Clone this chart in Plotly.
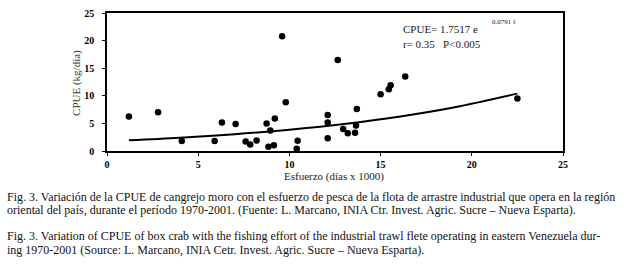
import plotly.graph_objects as go

# Scatter data: fishing effort (days x 1000) vs CPUE (kg/day)
effort = [1.2, 2.8, 4.1, 5.9, 6.3, 7.05, 7.6, 7.85, 8.2, 8.75, 8.95, 8.85, 9.2, 9.15,
          9.6, 9.8, 10.45, 10.4, 12.65, 12.1, 12.1, 12.1, 12.95, 13.2, 13.6, 13.65,
          13.7, 15.0, 15.45, 15.55, 16.35, 22.5]
cpue = [6.25, 7.0, 1.8, 1.8, 5.15, 4.9, 1.7, 1.2, 1.9, 5.0, 3.7, 0.75, 5.9, 1.05,
        20.8, 8.85, 1.85, 0.4, 16.5, 6.5, 5.15, 2.3, 4.0, 3.2, 3.3, 4.6,
        7.6, 10.3, 11.2, 11.9, 13.5, 9.5]

# Fitted exponential curve as drawn (CPUE = 1.7517 e^(0.0791 f))
fit_effort = [1.2, 4, 7, 10, 13, 16, 19, 22.5]
fit_cpue = [1.93, 2.40, 3.05, 3.86, 4.90, 6.21, 7.87, 10.39]

x_ticks = [0, 5, 10, 15, 20, 25]
y_ticks = [0, 5, 10, 15, 20, 25]

W, H = 633, 275
L, R, T, B = 107, 563, 7, 151


def px(x):
    return (x - L) / (R - L)


def py(y):
    return (B - y) / (B - T)


serif = "Liberation Serif"

fig = go.Figure()
fig.add_trace(go.Scatter(x=fit_effort, y=fit_cpue, mode="lines", line_shape="spline",
                         line=dict(color="black", width=2), showlegend=False,
                         hoverinfo="skip"))
fig.add_trace(go.Scatter(x=effort, y=cpue, mode="markers",
                         marker=dict(color="black", size=6.5), showlegend=False))

axis_common = dict(showgrid=False, zeroline=False, showline=True, linecolor="black",
                   linewidth=1.5, mirror=True, ticks="outside", ticklen=3,
                   tickcolor="black", tickwidth=1,
                   tickfont=dict(family=serif, size=10, color="black", weight="bold"))

fig.update_xaxes(range=[0, 25], tickvals=x_ticks, ticktext=[str(v) for v in x_ticks],
                 ticklabelstandoff=0, **axis_common)
fig.update_yaxes(range=[0, 25], tickvals=y_ticks, ticktext=[str(v) for v in y_ticks],
                 ticklabelstandoff=6, **axis_common)

ann = []


def add(text, x, y, size, color="#222", xanchor="center", angle=0):
    ann.append(dict(x=px(x), y=py(y), xref="paper", yref="paper", xanchor=xanchor,
                    yanchor="middle", text=text, showarrow=False, textangle=angle,
                    font=dict(family=serif, size=size, color=color)))


# axis titles
add("Esfuerzo (días x 1000)", 334, 178, 11)
add("CPUE (kg/día)", 77, 80, 11, color="#333", angle=-90)
# equation
add("CPUE= 1.7517 e", 401, 24, 11, xanchor="left")
add("0.0791 f", 490, 16, 7, xanchor="left")
add("r= 0.35&nbsp;&nbsp;&nbsp;P&lt;0.005", 401, 39, 11, xanchor="left")

captions = [
    ("Fig. 3. Variación de la CPUE de cangrejo moro con el esfuerzo de pesca de la flota de arrastre industrial que opera en la región", 199),
    ("oriental del país, durante el período 1970-2001. (Fuente: L. Marcano, INIA Ctr. Invest. Agric. Sucre – Nueva Esparta).", 213),
    ("Fig. 3. Variation of CPUE of box crab with the fishing effort of the industrial trawl flete operating in eastern Venezuela dur-", 240),
    ("ing 1970-2001 (Source: L. Marcano, INIA Cetr. Invest. Agric. Sucre – Nueva Esparta).", 254),
]
for text, yy in captions:
    add(text, 5, yy, 12, color="#111", xanchor="left")

fig.update_layout(width=W, height=H, margin=dict(l=L, r=W - R, t=T, b=H - B),
                  paper_bgcolor="white", plot_bgcolor="white", annotations=ann)

fig.write_html("out.html", config={"displayModeBar": False},
               post_script="document.body.style.margin='0';document.body.style.overflow='hidden';")
